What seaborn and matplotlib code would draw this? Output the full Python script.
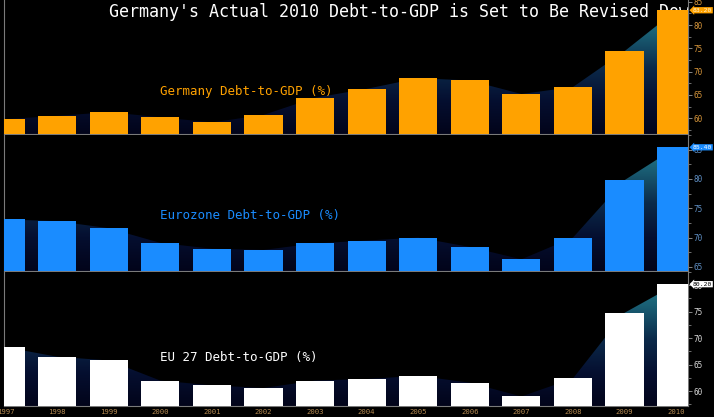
import numpy as np
import pandas as pd
import matplotlib
import matplotlib.pyplot as plt
import seaborn as sns
from matplotlib.ticker import MultipleLocator
from matplotlib.colors import LinearSegmentedColormap
from matplotlib.patches import PathPatch
import matplotlib.transforms as mtransforms

# debt-to-GDP, %
years = list(range(1997, 2011))
germany = [59.8, 60.5, 61.3, 60.2, 59.1, 60.7, 64.4, 66.3, 68.6, 68.1, 65.2, 66.7, 74.4, 83.2]
eurozone = [73.1, 72.8, 71.6, 69.1, 68.1, 67.9, 69.0, 69.5, 70.0, 68.4, 66.3, 70.0, 79.8, 85.4]
eu27 = [68.3, 66.5, 65.8, 62.0, 61.1, 60.6, 62.0, 62.3, 62.9, 61.6, 59.0, 62.4, 74.8, 80.2]

df = pd.DataFrame({'year': years, 'germany': germany, 'eurozone': eurozone, 'eu27': eu27})

sns.set_theme(style='dark', rc={'axes.facecolor': 'black', 'figure.facecolor': 'black',
                                'axes.edgecolor': '#7a7a7a', 'axes.grid': False})
plt.rcParams['font.family'] = ['DejaVu Sans Mono']

# background "mountain" gradient
mcmap = LinearSegmentedColormap.from_list('mtn', ['#02041a', '#050f30', '#0b2a4a', '#1a5f74', '#2a8894'])

W, H = 714, 417
fig = plt.figure(figsize=(W / 100, H / 100), dpi=100, facecolor='black')

xlim = (1996.97, 2010.23)
panels = [
    # column, bar colour, tick colour, label, label y(px), ylim, top/bottom px, box text colour
    ('germany', '#ffa200', '#d6953a', 'Germany Debt-to-GDP (%)', 92, (56.6, 85.4), (0, 134), '#fff2d0'),
    ('eurozone', '#1a8cff', '#5f8fc4', 'Eurozone Debt-to-GDP (%)', 216, (64.3, 87.5), (135, 271), 'white'),
    ('eu27', '#ffffff', '#d8d8d8', 'EU 27 Debt-to-GDP (%)', 357, (57.2, 82.5), (272, 406), 'black'),
]

axes = []
for col, bcolor, tcolor, label, ly, ylim, (ptop, pbot), boxtxt in panels:
    ax = fig.add_axes([4 / W, 1 - pbot / H, (688 - 4) / W, (pbot - ptop) / H])
    ax.set_facecolor('black')
    sns.barplot(data=df, x='year', y=col, native_scale=True, width=0.74, color=bcolor,
                saturation=1, linewidth=0, errorbar=None, ax=ax)
    bars = list(ax.patches)
    for b in bars:
        b.set_zorder(3)

    # area behind the bars
    poly = ax.fill_between(df['year'], df[col], ylim[0], facecolor='none', edgecolor='none')
    clip = PathPatch(poly.get_paths()[0], transform=ax.transData, facecolor='none', edgecolor='none')
    ax.add_patch(clip)
    grad = np.linspace(0, 1, 256).reshape(-1, 1)
    im = ax.imshow(grad, cmap=mcmap, origin='lower', aspect='auto', zorder=1,
                   extent=[xlim[0], xlim[1], ylim[0], ylim[1]])
    im.set_clip_path(clip)

    ax.set_xlim(xlim)
    ax.set_ylim(ylim)
    ax.set_xlabel('')
    ax.set_ylabel('')
    for s in ['left', 'right', 'bottom']:
        ax.spines[s].set_color('#7a7a7a')
        ax.spines[s].set_linewidth(0.8)
    ax.spines['top'].set_visible(False)

    ax.yaxis.tick_right()
    ax.yaxis.set_major_locator(MultipleLocator(5))
    ax.yaxis.set_minor_locator(MultipleLocator(2.5))
    ax.tick_params(axis='y', which='both', colors='#9a9a9a', labelcolor=tcolor,
                   labelsize=5.5, direction='out', pad=1)
    ax.tick_params(axis='y', which='major', length=3, width=0.6)
    ax.tick_params(axis='y', which='minor', length=2, width=0.5)

    ax.set_xticks(years)
    ax.tick_params(axis='x', colors='#7a7a7a', labelcolor='#b48a52', labelsize=5.2,
                   length=1.5, width=0.5, pad=0.5)

    # panel name
    ax.text(160 / W, 1 - ly / H, label, transform=fig.transFigure, color=bcolor,
            fontsize=9, va='center', ha='left', zorder=5)

    # last value box on the right axis
    last = df[col].iloc[-1]
    trans = mtransforms.blended_transform_factory(ax.transAxes, ax.transData)
    ax.text(1.007, last, f'{last:.2f}', transform=trans, fontsize=4.6, color=boxtxt,
            va='center', ha='left', clip_on=False, zorder=6,
            bbox=dict(boxstyle='larrow,pad=0.1', fc=bcolor, ec='none'))
    axes.append(ax)

for ax in axes[:-1]:
    ax.tick_params(axis='x', labelbottom=False, length=0)

# title sits under the bars of the top panel
axes[0].text(109 / W, 1 - 12 / H, "Germany's Actual 2010 Debt-to-GDP is Set to Be Revised Down",
             transform=fig.transFigure, color='white', fontsize=12, va='center', ha='left',
             zorder=2, clip_on=True)

fig.savefig('out.png', dpi=100, facecolor='black')
